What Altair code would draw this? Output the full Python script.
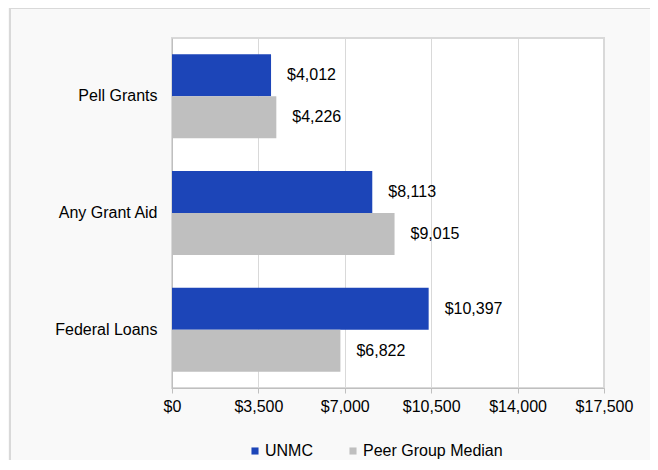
import altair as alt
import pandas as pd

categories = ["Pell Grants", "Any Grant Aid", "Federal Loans"]
series = ["UNMC", "Peer Group Median"]
unmc_values = [4012, 8113, 10397]
peer_values = [4226, 9015, 6822]
x_ticks = [0, 3500, 7000, 10500, 14000, 17500]
colors = ["#1c45b8", "#bfbfbf"]

rows = []
for i, c in enumerate(categories):
    rows.append({"cat": c, "series": series[0], "value": unmc_values[i]})
    rows.append({"cat": c, "series": series[1], "value": peer_values[i]})
df = pd.DataFrame(rows)
df["label"] = df["value"].map(lambda v: "${:,}".format(v))

FONT = "Liberation Sans"

y_enc = alt.Y("cat:N", sort=categories, title=None,
              scale=alt.Scale(paddingInner=0.28, paddingOuter=0.14),
              axis=alt.Axis(ticks=False, labelPadding=15, labelFontSize=16,
                            labelFont=FONT, labelColor="#000000",
                            domainColor="#bfbfbf", domainWidth=1))
yoff = alt.YOffset("series:N", sort=series, scale=alt.Scale(paddingInner=0, paddingOuter=0))
x_enc = alt.X("value:Q", title=None,
              scale=alt.Scale(domain=[0, 17500], nice=False),
              axis=alt.Axis(values=x_ticks, format="$,.0f", labelFontSize=16,
                            labelFont=FONT, labelColor="#000000", tickSize=5,
                            tickColor="#bfbfbf", domainColor="#bfbfbf",
                            gridColor="#d9d9d9", labelPadding=5,
                            labelOverlap=False, labelFlush=False))

base = alt.Chart(df)

bars = base.mark_bar(size=42).encode(
    y=y_enc, yOffset=yoff, x=x_enc,
    color=alt.Color("series:N", sort=series, title=None,
                    scale=alt.Scale(domain=series, range=colors),
                    legend=alt.Legend(orient="none", direction="horizontal",
                                      legendX=75, legendY=405,
                                      symbolType="square", symbolSize=50,
                                      symbolStrokeWidth=0,
                                      labelFontSize=16, labelFont=FONT,
                                      labelColor="#000000", labelOffset=2,
                                      columnPadding=32)),
)

labels = base.mark_text(align="left", baseline="middle", dx=16,
                        fontSize=16, font=FONT, color="#000000").encode(
    y=alt.Y("cat:N", sort=categories), yOffset=yoff,
    x="value:Q", text="label:N",
)

frame = alt.Chart(alt.Data(values=[{"a": 1}])).mark_rect(
    fill=None, stroke="#d9d9d9", strokeWidth=2, clip=False).encode(
    x=alt.value(-162), x2=alt.value(900), y=alt.value(-30), y2=alt.value(800))

chart = alt.layer(frame, bars, labels).properties(
    width=432, height=350,
    autosize=alt.AutoSizeParams(type="none"),
    padding={"left": 164, "top": 30, "right": 46, "bottom": 72},
    background="#f9f9f9",
).configure_view(fill="#ffffff", stroke="#d9d9d9", strokeWidth=2)

chart.save("out.html", embed_options={"renderer": "svg", "actions": False})
